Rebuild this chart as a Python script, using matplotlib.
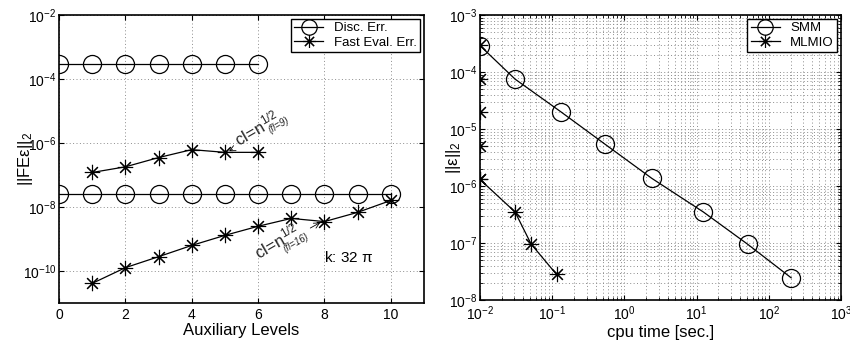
import numpy as np
import matplotlib
matplotlib.use('Agg')
import matplotlib.pyplot as plt

plt.rcParams['font.family'] = ['Liberation Sans', 'DejaVu Sans']
plt.rcParams['mathtext.fontset'] = 'custom'
plt.rcParams['mathtext.rm'] = 'Liberation Sans'
plt.rcParams['mathtext.it'] = 'Liberation Sans:italic'
plt.rcParams['mathtext.default'] = 'regular'

# left panel data
levels_disc_hi = [0, 1, 2, 3, 4, 5, 6]
disc_hi = [3e-4] * 7
levels_fast_hi = [1, 2, 3, 4, 5, 6]
fast_hi = [1.2e-7, 1.8e-7, 3.5e-7, 6.2e-7, 5.1e-7, 5.1e-7]
levels_disc_lo = [0, 1, 2, 3, 4, 5, 6, 7, 8, 9, 10]
disc_lo = [2.5e-8] * 11
levels_fast_lo = [1, 2, 3, 4, 5, 6, 7, 8, 9, 10]
fast_lo = [4.1e-11, 1.27e-10, 2.8e-10, 6.3e-10, 1.3e-9, 2.5e-9, 4.4e-9, 3.5e-9, 6.8e-9, 1.6e-8]

# right panel data
smm_t = [0.01, 0.0306, 0.132, 0.54, 2.4, 12.4, 51, 204]
smm_err = [2.9e-4, 7.5e-5, 2.0e-5, 5.4e-6, 1.36e-6, 3.5e-7, 9.5e-8, 2.45e-8]
mlmio_t = [0.01, 0.01, 0.01, 0.01, 0.01, 0.0306, 0.051, 0.115]
mlmio_err = [3e-4, 7.5e-5, 2.0e-5, 5.1e-6, 1.3e-6, 3.5e-7, 9.6e-8, 2.8e-8]

fig = plt.figure(figsize=(8.5, 3.43), dpi=100)
ax1 = fig.add_axes([0.0694, 0.1166, 0.4294, 0.8397])
ax2 = fig.add_axes([0.5647, 0.1254, 0.4247, 0.8309])

star_m = (8, 2, 0)
circ = dict(marker='o', markersize=13, markerfacecolor='none', markeredgecolor='k',
            color='k', linewidth=0.9, markeredgewidth=0.9)
star = dict(marker=star_m, markersize=11, color='k', linewidth=0.9, markeredgewidth=0.8)
grid_style = dict(linestyle=(0, (1, 2.5)), color='0.55', linewidth=0.7)

ax1.plot(levels_disc_hi, disc_hi, label='Disc. Err.', **circ)
ax1.plot(levels_fast_hi, fast_hi, label='Fast Eval. Err.', **star)
ax1.plot(levels_disc_lo, disc_lo, **circ)
ax1.plot(levels_fast_lo, fast_lo, **star)
ax1.set_yscale('log')
ax1.set_xlim(0, 11)
ax1.set_ylim(1e-11, 1e-2)
ax1.set_xticks([0, 2, 4, 6, 8, 10])
ax1.set_yticks([1e-10, 1e-8, 1e-6, 1e-4, 1e-2])
ax1.yaxis.set_minor_locator(matplotlib.ticker.NullLocator())
ax1.grid(True, **grid_style)
ax1.set_xlabel('Auxiliary Levels', fontsize=12, labelpad=1)
ax1.set_ylabel(r'$||FE\epsilon||_2$', fontsize=12, labelpad=-9)
ax1.legend(loc='upper right', fancybox=False, edgecolor='k', framealpha=1,
           fontsize=9.5, borderpad=0.25, handlelength=2.2, labelspacing=0.15,
           borderaxespad=0.3, markerscale=0.85)

# annotations
ax1.annotate('', xy=(5.05, 5.1e-7), xytext=(5.3, 6.9e-7),
             arrowprops=dict(arrowstyle='->', color='k', lw=0.6))
ax1.text(5.45, 6.3e-7, r'$cl\!=\!n^{1/2}$', rotation=30, fontsize=12,
         ha='left', va='bottom', rotation_mode='anchor', color='0.15')
ax1.text(6.4, 1.8e-6, '(fl=9)', rotation=30, fontsize=7, style='italic',
         ha='left', va='bottom', rotation_mode='anchor', color='0.15')
ax1.annotate('', xy=(7.95, 3.6e-9), xytext=(7.5, 2.0e-9),
             arrowprops=dict(arrowstyle='->', color='k', lw=0.6))
ax1.text(6.05, 1.9e-10, r'$cl\!=\!n^{1/2}$', rotation=30, fontsize=12,
         ha='left', va='bottom', rotation_mode='anchor', color='0.15')
ax1.text(6.85, 3.3e-10, '(fl=16)', rotation=30, fontsize=7, style='italic',
         ha='left', va='bottom', rotation_mode='anchor', color='0.15')
ax1.text(8.0, 2.7e-10, r'k: 32 $\pi$', fontsize=11, ha='left', va='center')

ax2.plot(smm_t, smm_err, label='SMM', **circ)
ax2.plot(mlmio_t[:5], mlmio_err[:5], linestyle='none', marker=star_m,
         markersize=11, color='k', markeredgewidth=0.8)
ax2.plot(mlmio_t[4:], mlmio_err[4:], label='MLMIO', **star)
ax2.set_xscale('log')
ax2.set_yscale('log')
ax2.set_xlim(1e-2, 1e3)
ax2.set_ylim(1e-8, 1e-3)
ax2.grid(True, which='both', **grid_style)
ax2.set_xlabel('cpu time [sec.]', fontsize=12, labelpad=1)
ax2.set_ylabel(r'$||\epsilon||_2$', fontsize=12, labelpad=-10)
h, l = ax2.get_legend_handles_labels()
ax2.legend(h, l, loc='upper right', fancybox=False, edgecolor='k', framealpha=1,
           fontsize=9.5, borderpad=0.25, handlelength=2.2, labelspacing=0.15,
           borderaxespad=0.3, markerscale=0.85)

for ax in (ax1, ax2):
    ax.tick_params(which='both', direction='in', top=True, right=True, labelsize=10)
    ax.tick_params(which='minor', length=2)
    ax.tick_params(axis='y', pad=2)
    for s in ax.spines.values():
        s.set_linewidth(1.2)

fig.savefig('out.png', dpi=100)
